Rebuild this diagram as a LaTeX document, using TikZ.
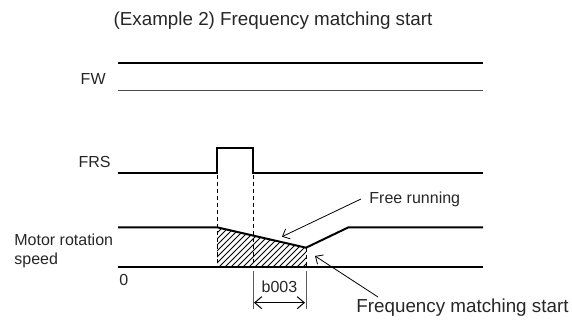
\documentclass[tikz,border=0pt]{standalone}
\usepackage{fontspec}
\setmainfont{Liberation Sans}
\usetikzlibrary{arrows.meta, patterns, positioning}

\begin{document}
\begin{tikzpicture}[
    x=0.5pt, y=-0.5pt,
    sig/.style = {line width=1pt, line join=miter},
    thinsig/.style = {line width=0.6pt, black!70},
    base/.style = {line width=0.6pt},
    guide/.style = {line width=0.5pt, dash pattern=on 2pt off 1.5pt},
    extline/.style = {line width=0.5pt, black!65},
    pointer/.style = {line width=0.4pt, -{Straight Barb[length=3pt, width=5.5pt]}},
    dimarrow/.style = {line width=0.5pt, {Straight Barb[length=3.5pt, width=6pt]}-{Straight Barb[length=3.5pt, width=6pt]}},
    label/.style = {font=\fontsize{8}{9.5}\selectfont, inner sep=0pt, text=black!85},
    bigtext/.style = {font=\fontsize{9.4}{11}\selectfont, inner sep=0pt, text=black!85}
]
    \useasboundingbox (0,0) rectangle (572,324);

    % Title
    \node[bigtext] (title) at (273,21) {(Example 2) Frequency matching start};

    % FW SIGNAL
    \node[label, anchor=east] (fw) at (106,79) {FW};
    \coordinate (fw_hi_a) at (118,63.5);
    \coordinate (fw_hi_b) at (483,63.5);
    \coordinate (fw_lo_a) at (118,90.5);
    \coordinate (fw_lo_b) at (483,90.5);
    \draw[sig] (fw_hi_a) -- (fw_hi_b);
    \draw[thinsig] (fw_lo_a) -- (fw_lo_b);

    % FRS SIGNAL
    \node[label, anchor=east] (frs) at (111,162) {FRS};
    \coordinate (frs_start) at (118,172.7);
    \coordinate (frs_up) at (217,172.7);
    \coordinate (frs_down) at (253,172.7);
    \coordinate (frs_end) at (483,172.7);
    \draw[sig] (frs_start) -- (frs_up) -- ++(0,-24.5) -| (frs_down) -- (frs_end);

    % MOTOR ROTATION SPEED
    \node[label, anchor=west, align=left] (motor) at (14,250.5) {Motor rotation\\speed};
    \node[label, anchor=west] (zero) at (119,280) {0};
    \coordinate (spd_start) at (118,227.3);
    \coordinate (coast) at (217,227.3);
    \coordinate (match) at (306,247.7);
    \coordinate (recover) at (348.5,227.3);
    \coordinate (spd_end) at (483,227.3);
    \coordinate (gnd_start) at (118,267);
    \coordinate (gnd_end) at (483,267);

    \fill[pattern=north east lines] (coast) -- (match) -- (match |- gnd_start)
        -- (coast |- gnd_start) -- cycle;
    \draw[base] (gnd_start) -- (gnd_end);
    \draw[sig] (spd_start) -- (coast) -- (match) -- (recover) -- (spd_end);

    % Guide lines (dashed)
    \draw[guide] ([yshift=-1pt]frs_up) -- (coast |- gnd_start);
    \draw[guide] ([yshift=-1pt]frs_down) -- (frs_down |- gnd_start);
    \draw[guide] (match) -- (match |- gnd_start);

    % b003 dimension
    \coordinate (dim_l) at (253,309);
    \coordinate (dim_r) at (306,309);
    \coordinate (dim_al) at (254,302.7);
    \coordinate (dim_ar) at (305,302.7);
    \draw[extline] ([yshift=-2pt]frs_down |- gnd_start) -- (dim_l);
    \draw[extline] ([yshift=-2pt]match |- gnd_start) -- (dim_r);
    \draw[dimarrow] (dim_al) -- (dim_ar);
    \node[label] (b003) at (279.5,286.5) {b003};

    % Callouts
    \node[label, anchor=west] (free) at (369,199) {Free running};
    \coordinate (free_tip) at (282,236.7);
    \draw[pointer] ([xshift=-4pt]free.west) -- (free_tip);

    \node[bigtext, anchor=west] (fms) at (356,308) {Frequency matching start};
    \coordinate (fms_tip) at (315,256);
    \draw[pointer] ([shift={(22,-11)}]fms.west) -- (fms_tip);

\end{tikzpicture}
\end{document}
